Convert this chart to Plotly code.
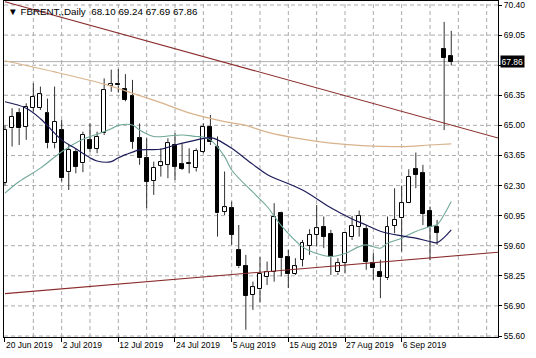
import plotly.graph_objects as go

# ---------------- data ----------------
dates = ["2019-06-20", "2019-06-21", "2019-06-24", "2019-06-25", "2019-06-26", "2019-06-27",
         "2019-06-28", "2019-07-01", "2019-07-02", "2019-07-03", "2019-07-04", "2019-07-05",
         "2019-07-08", "2019-07-09", "2019-07-10", "2019-07-11", "2019-07-12", "2019-07-15",
         "2019-07-16", "2019-07-17", "2019-07-18", "2019-07-19", "2019-07-22", "2019-07-23",
         "2019-07-24", "2019-07-25", "2019-07-26", "2019-07-29", "2019-07-30", "2019-07-31",
         "2019-08-01", "2019-08-02", "2019-08-05", "2019-08-06", "2019-08-07", "2019-08-08",
         "2019-08-09", "2019-08-12", "2019-08-13", "2019-08-14", "2019-08-15", "2019-08-16",
         "2019-08-19", "2019-08-20", "2019-08-21", "2019-08-22", "2019-08-23", "2019-08-26",
         "2019-08-27", "2019-08-28", "2019-08-29", "2019-08-30", "2019-09-02", "2019-09-03",
         "2019-09-04", "2019-09-05", "2019-09-06", "2019-09-09", "2019-09-10", "2019-09-11",
         "2019-09-12", "2019-09-13", "2019-09-16", "2019-09-17"]

opens = [62.42, 64.87, 65.54, 64.94, 65.80, 65.80, 65.54, 64.20, 64.79, 62.90,
         63.82, 63.30, 64.35, 63.94, 64.65, 66.78, 66.86, 66.64, 66.32, 64.42,
         63.52, 62.51, 63.19, 63.23, 64.12, 63.26, 63.28, 63.08, 63.82, 64.94,
         64.05, 61.13, 61.28, 59.41, 58.70, 57.40, 57.65, 58.19, 58.44, 61.05,
         59.09, 58.34, 58.97, 59.59, 60.09, 60.46, 60.13, 58.40, 58.82, 59.98,
         60.43, 60.34, 58.82, 58.44, 58.14, 60.49, 60.83, 61.53, 63.03, 62.85,
         61.18, 60.43, 68.43, 68.10]
highs = [65.00, 65.77, 65.77, 65.99, 66.89, 66.74, 66.20, 66.74, 65.24, 64.12,
         63.97, 64.72, 65.09, 64.72, 67.11, 67.50, 67.53, 67.30, 67.04, 65.09,
         64.42, 63.37, 63.97, 64.42, 64.65, 64.20, 63.97, 63.97, 65.09, 65.47,
         64.50, 62.93, 61.58, 60.53, 59.19, 57.99, 59.09, 58.89, 61.51, 61.13,
         59.41, 59.04, 59.86, 60.34, 61.43, 60.91, 60.31, 59.04, 60.16, 60.94,
         61.18, 60.53, 59.27, 58.97, 60.91, 62.18, 62.30, 63.03, 63.78, 63.23,
         61.36, 60.76, 69.64, 69.24]
lows = [62.30, 64.05, 64.12, 64.35, 65.62, 65.69, 63.97, 63.97, 62.48, 62.10,
        62.85, 62.90, 63.82, 63.75, 64.57, 66.51, 66.47, 66.08, 63.95, 63.23,
        61.28, 61.88, 62.70, 62.63, 62.55, 63.00, 62.85, 62.93, 63.75, 64.12,
        60.01, 60.98, 59.64, 58.60, 55.83, 56.72, 57.05, 57.84, 57.99, 58.22,
        57.70, 58.29, 58.67, 59.19, 59.56, 59.49, 58.29, 58.29, 58.38, 59.86,
        60.01, 58.52, 58.07, 57.25, 58.07, 60.16, 59.34, 61.51, 62.18, 60.53,
        58.95, 59.64, 64.79, 67.69]
closes = [64.79, 65.39, 64.87, 65.84, 66.29, 66.39, 64.20, 65.17, 62.63, 63.90,
          63.15, 64.57, 63.94, 64.50, 66.59, 66.84, 66.80, 66.14, 64.27, 63.52,
          62.48, 63.11, 63.34, 64.20, 63.15, 63.05, 63.32, 63.85, 64.94, 64.24,
          61.05, 61.32, 60.09, 58.67, 57.35, 57.74, 58.34, 58.44, 60.91, 59.04,
          58.34, 58.67, 59.74, 60.09, 60.38, 60.01, 59.09, 58.82, 60.16, 60.49,
          60.94, 58.89, 58.59, 58.19, 60.46, 60.76, 61.51, 62.70, 62.78, 61.02,
          60.43, 60.19, 68.02, 67.86]

tick_bars = [0, 8, 16, 24, 32, 40, 48, 56]
tick_labels = ["20 Jun 2019", "2 Jul 2019", "12 Jul 2019", "24 Jul 2019",
               "5 Aug 2019", "15 Aug 2019", "27 Aug 2019", "6 Sep 2019"]
grid_bars = [4, 8, 12, 16, 20, 24, 28, 32, 36, 40, 44, 48, 52, 56, 60, 64, 68]

price_ticks = [70.40, 69.05, 67.70, 66.35, 65.00, 63.65, 62.30, 60.95, 59.60, 58.25, 56.90, 55.55]
price_labels = ["70.40", "69.05", "", "66.35", "65.00", "63.65", "62.30", "60.95",
                "59.60", "58.25", "56.90", "55.60"]

# fast moving average (teal)
ma_fast_bars = [0, 2, 5, 8, 11, 13, 15, 16, 18, 19, 21, 23, 25, 27, 28, 29, 31, 32, 35, 37,
                39, 42, 44, 46, 48, 50, 51, 53, 54, 56, 58, 60, 61, 62, 63]
ma_fast_vals = [61.96, 62.48, 63.08, 63.82, 64.38, 64.60, 64.85, 65.00, 65.02, 64.79,
                64.50, 64.52, 64.57, 64.50, 64.48, 64.35, 63.60, 63.00, 62.00, 61.36,
                60.50, 59.55, 59.25, 59.12, 59.25, 59.56, 59.64, 59.49, 59.71, 59.94,
                60.24, 60.46, 60.55, 61.00, 61.58]
# medium moving average (navy)
ma_mid_bars = [0, 3, 5, 8, 10, 12, 13, 15, 16, 18, 19, 22, 24, 26, 29, 30, 32, 35, 37, 42,
               46, 49, 51, 53, 56, 58, 60, 61, 63]
ma_mid_vals = [66.06, 65.77, 65.30, 64.35, 63.95, 63.55, 63.40, 63.37, 63.55, 63.80,
               63.90, 63.93, 64.12, 64.27, 64.45, 64.35, 63.97, 63.25, 62.80, 62.10,
               61.30, 60.80, 60.53, 60.25, 60.04, 59.94, 59.79, 59.74, 60.31]
# slow moving average (tan)
ma_slow_bars = [0, 7, 14, 17, 22, 26, 31, 34, 37, 42, 46, 51, 56, 60, 63]
ma_slow_vals = [67.90, 67.40, 66.85, 66.55, 66.02, 65.56, 65.17, 65.00, 64.70, 64.38,
                64.20, 64.08, 64.05, 64.12, 64.17]

trend_hi_bars = [0, 70]
trend_hi_vals = [70.55, 64.40]
trend_lo_bars = [0, 70]
trend_lo_vals = [57.45, 59.32]

last_price = 67.86
title_text = "\u25bc FBRENT,,Daily  68.10 69.24 67.69 67.86"

# ---------------- figure ----------------
FONT = "Liberation Sans, Arial, sans-serif"
GRID = "#ababab"
X_RANGE = [-0.14, 69.6]
Y_RANGE = [55.505, 70.58]
PX_PER_BAR = 494 / (X_RANGE[1] - X_RANGE[0])
PX_PER_PRICE = 336 / (Y_RANGE[1] - Y_RANGE[0])
DASH_PX, GAP_PX = 4.0, 3.0
n = len(dates)
idx = list(range(n))

fig = go.Figure()

# dashed grid as one SVG path of short solid segments (below the data)
parts = []
for p in price_ticks:
    d, g = DASH_PX / PX_PER_BAR, GAP_PX / PX_PER_BAR
    x = X_RANGE[0]
    while x < X_RANGE[1]:
        parts.append("M%.4f,%.4f L%.4f,%.4f" % (x, p, min(x + d, X_RANGE[1]), p))
        x += d + g
for b in grid_bars:
    d, g = DASH_PX / PX_PER_PRICE, GAP_PX / PX_PER_PRICE
    y = Y_RANGE[0]
    while y < Y_RANGE[1]:
        parts.append("M%.4f,%.4f L%.4f,%.4f" % (b, y, b, min(y + d, Y_RANGE[1])))
        y += d + g
fig.add_shape(type="path", xref="x", yref="y", path=" ".join(parts),
              line=dict(color=GRID, width=1), layer="below")

# wicks (upper and lower segments so they don't cross white bodies)
wx, wy = [], []
for i in idx:
    top = max(opens[i], closes[i])
    bot = min(opens[i], closes[i])
    wx += [i, i, None, i, i, None]
    wy += [highs[i], top, None, bot, lows[i], None]

# bodies
def body(sel):
    xs = [i for i in idx if sel(i)]
    base = [min(opens[i], closes[i]) for i in xs]
    h = [max(abs(closes[i] - opens[i]), 0.03) for i in xs]
    return xs, base, h

ux, ub, uh = body(lambda i: closes[i] >= opens[i])
dx, db, dh = body(lambda i: closes[i] < opens[i])

fig.add_trace(go.Bar(x=ux, y=uh, base=ub, width=0.56,
                     marker=dict(color="white", line=dict(color="black", width=1)),
                     hoverinfo="skip", showlegend=False))
fig.add_trace(go.Bar(x=dx, y=dh, base=db, width=0.56,
                     marker=dict(color="black", line=dict(color="black", width=1)),
                     hoverinfo="skip", showlegend=False))

fig.add_trace(go.Scatter(x=wx, y=wy, mode="lines", line=dict(color="#303030", width=1),
                         hoverinfo="skip", showlegend=False))

# moving averages
fig.add_trace(go.Scatter(x=ma_slow_bars, y=ma_slow_vals, mode="lines", line_shape="spline",
                         line=dict(color="#d9b38c", width=1.2), showlegend=False))
fig.add_trace(go.Scatter(x=ma_fast_bars, y=ma_fast_vals, mode="lines", line_shape="spline",
                         line=dict(color="#6fa89a", width=1.1), showlegend=False))
fig.add_trace(go.Scatter(x=ma_mid_bars, y=ma_mid_vals, mode="lines", line_shape="spline",
                         line=dict(color="#1c1c5a", width=1.2), showlegend=False))

# trend lines
fig.add_trace(go.Scatter(x=trend_hi_bars, y=trend_hi_vals, mode="lines",
                         line=dict(color="#8b2b2b", width=1.1), showlegend=False))
fig.add_trace(go.Scatter(x=trend_lo_bars, y=trend_lo_vals, mode="lines",
                         line=dict(color="#8b2b2b", width=1.1), showlegend=False))

# bid line
fig.add_shape(type="line", xref="paper", x0=0, x1=1, yref="y", y0=last_price, y1=last_price,
              line=dict(color="#b0b0b0", width=1), layer="below")

fig.add_annotation(xref="paper", x=1, xanchor="left", xshift=2, yref="y", y=last_price,
                   text="%.2f" % last_price, showarrow=False, bgcolor="black",
                   font=dict(color="white", size=8.5, family=FONT), borderpad=0.5)

fig.add_annotation(xref="paper", x=0, xanchor="left", xshift=2, yref="paper", y=1,
                   yanchor="top", yshift=-3, text=title_text, showarrow=False,
                   font=dict(color="black", size=9.8, family=FONT))

fig.update_layout(
    width=536, height=358,
    margin=dict(l=4, r=38, t=1, b=21),
    paper_bgcolor="white", plot_bgcolor="white",
    barmode="overlay", bargap=0,
    showlegend=False,
    font=dict(family=FONT, size=8.5, color="black"),
    xaxis=dict(range=X_RANGE, tickmode="array", tickvals=tick_bars, ticktext=tick_labels,
               tickangle=0, ticks="outside", ticklen=4, tickcolor="black",
               ticklabelposition="outside right", ticklabeloverflow="allow",
               showgrid=False, showline=True, linecolor="black", linewidth=1, mirror=True,
               zeroline=False, tickfont=dict(size=8.5, family=FONT, color="black")),
    yaxis=dict(range=Y_RANGE, side="right", tickmode="array", tickvals=price_ticks,
               ticktext=price_labels, ticks="outside", ticklen=3, tickcolor="black",
               ticklabeloverflow="allow", showgrid=False,
               showline=True, linecolor="black", linewidth=1, mirror=True, zeroline=False,
               tickfont=dict(size=8.5, family=FONT, color="black")),
)

fig.write_html("out.html")
